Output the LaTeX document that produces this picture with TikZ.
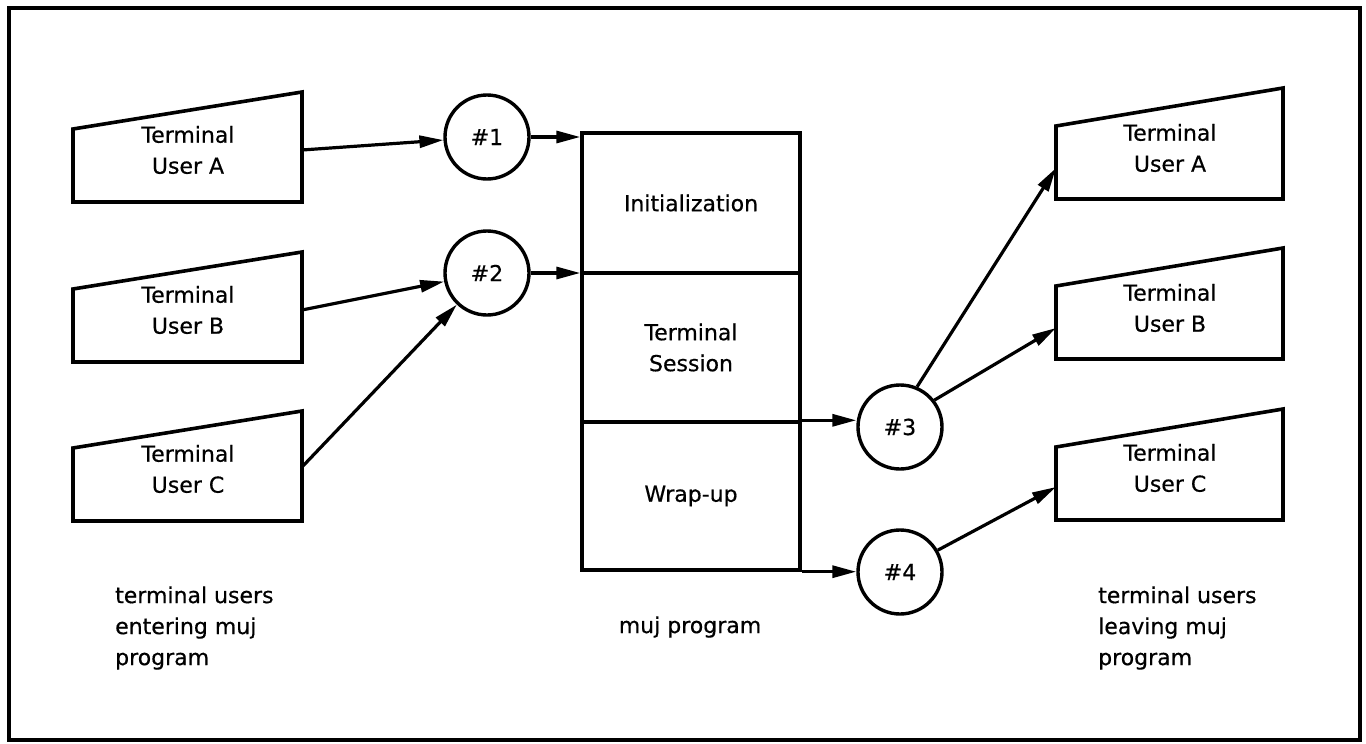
\documentclass[tikz,border=0pt]{standalone}
\usepackage{fontspec}
\setmainfont{DejaVu Sans}
\newfontfamily\lblfont[FakeBold=0.5]{DejaVu Sans}
\usetikzlibrary{arrows.meta}
\begin{document}
\begin{tikzpicture}[x=1pt,y=-1pt,
  arr/.style={-{Triangle[length=24pt,width=12pt]}, line width=3.2pt},
  term/.style={draw, line width=3.6pt, line join=miter},
  txt/.style={font=\lblfont\fontsize{22}{31}\selectfont, align=center, inner sep=0pt},
  circ/.style={circle, draw, line width=3.4pt, minimum size=84pt, inner sep=0pt, font=\lblfont\fontsize{22}{31}\selectfont},
  part/.style={draw, line width=3.4pt, minimum width=218pt, inner sep=0pt, font=\lblfont\fontsize{22}{31}\selectfont, align=center},
  note/.style={font=\lblfont\fontsize{22}{31}\selectfont, align=left, inner sep=0pt, anchor=west}]
\useasboundingbox (0,0) rectangle (1366,744);
\draw[line width=4.4pt] (9,8) rectangle (1360,740);

% left terminals
\draw[term] (73,129) -- (302,92) -- (302,202) -- (73,202) -- cycle;
\node[txt] (tlA) at (188,150) {Terminal\\User A};
\coordinate (oA) at (302,150);
\draw[term] (73,289) -- (302,252) -- (302,362) -- (73,362) -- cycle;
\node[txt] (tlB) at (188,310) {Terminal\\User B};
\coordinate (oB) at (302,310);
\draw[term] (73,448) -- (302,411) -- (302,521) -- (73,521) -- cycle;
\node[txt] (tlC) at (188,469) {Terminal\\User C};
\coordinate (oC) at (302,467);

% circles
\node[circ] (n1) at (487,137) {\#1};
\node[circ] (n2) at (487,273) {\#2};
\node[circ] (n3) at (900,427) {\#3};
\node[circ] (n4) at (900,572) {\#4};

% program box
\node[part, minimum height=140pt] (init) at (691,203) {Initialization};
\node[part, minimum height=149pt] (sess) at (691,347.5) {Terminal\\Session};
\node[part, minimum height=148pt] (wrap) at (691,496) {Wrap-up};

% right terminals
\draw[term] (1056,126) -- (1283,88) -- (1283,199) -- (1056,199) -- cycle;
\node[txt] (trA) at (1170,148) {Terminal\\User A};
\coordinate (iA) at (1056,168);
\draw[term] (1056,286) -- (1283,248) -- (1283,359) -- (1056,359) -- cycle;
\node[txt] (trB) at (1170,308) {Terminal\\User B};
\coordinate (iB) at (1056,328);
\draw[term] (1056,447) -- (1283,409) -- (1283,520) -- (1056,520) -- cycle;
\node[txt] (trC) at (1170,468) {Terminal\\User C};
\coordinate (iC) at (1056,487);

% connectors
\draw[arr] (oA) -- (n1);
\draw[arr] (oB) -- (n2);
\draw[arr] (oC) -- (n2);
\draw[arr] (n1.east) -- (n1.east -| init.west);
\draw[arr] (n2.east) -- (n2.east -| sess.west);
\draw[arr] (wrap.north east) -- (wrap.north east -| n3.west);
\draw[arr] (wrap.south east) -- (wrap.south east -| n4.west);
\draw[arr] (n3.67) -- (iA);
\draw[arr] (n3.38) -- (iB);
\draw[arr] (n4.30) -- (iC);

% captions
\node[note] (capL) at (115,628) {terminal users\\entering muj\\program};
\node[txt] (capM) at (690,627) {muj program};
\node[note] (capR) at (1098,628) {terminal users\\leaving muj\\program};
\end{tikzpicture}
\end{document}
